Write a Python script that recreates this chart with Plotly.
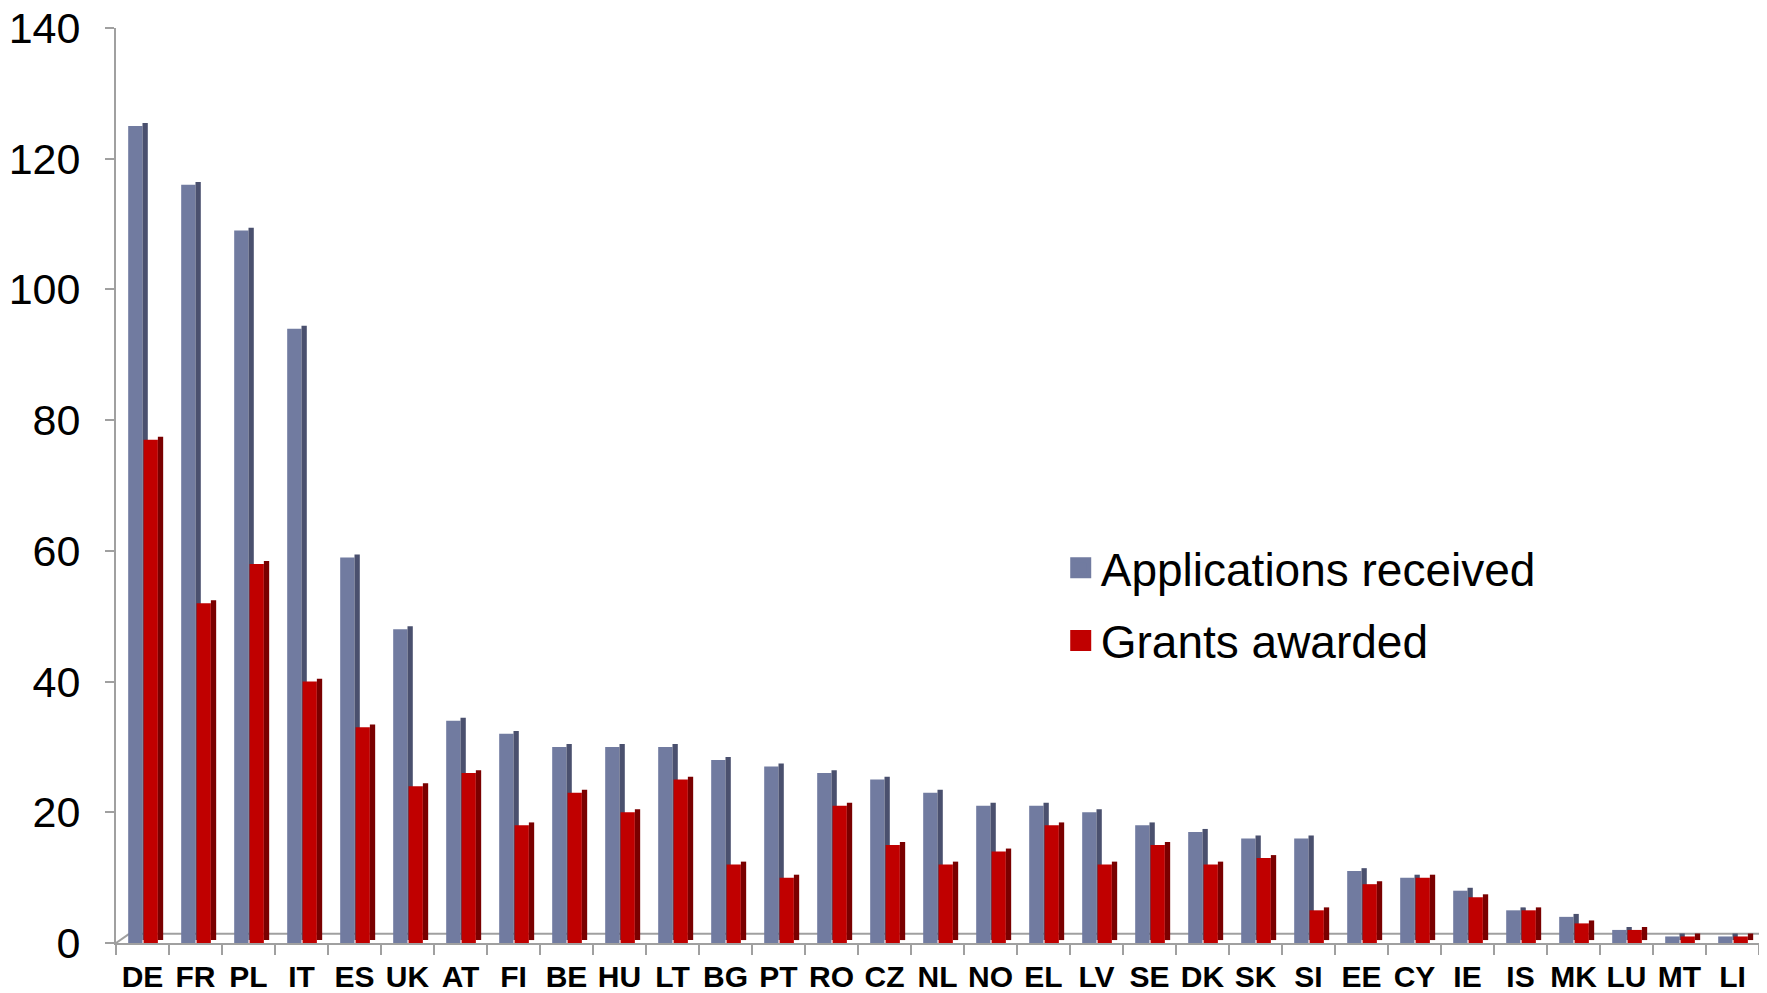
import plotly.graph_objects as go

countries = ['DE', 'FR', 'PL', 'IT', 'ES', 'UK', 'AT', 'FI', 'BE', 'HU', 'LT', 'BG', 'PT', 'RO', 'CZ', 'NL',
             'NO', 'EL', 'LV', 'SE', 'DK', 'SK', 'SI', 'EE', 'CY', 'IE', 'IS', 'MK', 'LU', 'MT', 'LI']
applications = [125, 116, 109, 94, 59, 48, 34, 32, 30, 30, 30, 28, 27, 26, 25, 23,
                21, 21, 20, 18, 17, 16, 16, 11, 10, 8, 5, 4, 2, 1, 1]
grants = [77, 52, 58, 40, 33, 24, 26, 18, 23, 20, 25, 12, 10, 21, 15, 12,
          14, 18, 12, 15, 12, 13, 5, 9, 10, 7, 5, 3, 2, 1, 1]

y_ticks = [0, 20, 40, 60, 80, 100, 120, 140]

# fake 3d look: dark side face a bit higher than the front face
depth = 0.45
front_w = 0.27
side_w = 0.1

blue, blue_side = '#717BA0', '#4A506E'
red, red_side = '#C00000', '#7A0000'

fig = go.Figure()
fig.add_trace(go.Bar(x=countries, y=applications, width=front_w, offset=-front_w,
                     marker=dict(color=blue, line_width=0), showlegend=False,
                     name='Applications received'))
fig.add_trace(go.Bar(x=countries, y=applications, base=depth, width=side_w, offset=0,
                     marker=dict(color=blue_side, line_width=0), showlegend=False, hoverinfo='skip'))
fig.add_trace(go.Bar(x=countries, y=grants, width=front_w, offset=0.02,
                     marker=dict(color=red, line_width=0), showlegend=False,
                     name='Grants awarded'))
fig.add_trace(go.Bar(x=countries, y=grants, base=depth, width=side_w, offset=0.02 + front_w,
                     marker=dict(color=red_side, line_width=0), showlegend=False, hoverinfo='skip'))

# legend entries (marker outline makes the square a bit bigger in the legend)
fig.add_trace(go.Scatter(x=[None], y=[None], mode='markers', name='Applications received',
                         marker=dict(symbol='square', size=24, color=blue, line=dict(color=blue, width=6)),
                         legendgroup='a'))
fig.add_trace(go.Scatter(x=[None], y=[None], mode='markers', name='Grants awarded',
                         marker=dict(symbol='square', size=24, color=red, line=dict(color=red, width=6)),
                         legendgroup='g'))

# floor of the 3d box
floor = dict(type='line', layer='below', line=dict(color='#A0A0A0', width=2))
fig.add_shape(floor, xref='paper', yref='y', x0=0.008, x1=1.0, y0=1.4, y1=1.4)
fig.add_shape(floor, xref='paper', yref='y', x0=0, x1=0.008, y0=0, y1=1.4)

# page body has an 8px margin, margins below take that into account
fig.update_layout(
    width=1767, height=993,
    margin=dict(l=108, r=16, t=20, b=58),
    plot_bgcolor='white', paper_bgcolor='white',
    barmode='overlay',
    font=dict(family='Liberation Sans, Arial', color='black'),
    legend=dict(x=0.575, y=0.45, xanchor='left', yanchor='top',
                font=dict(size=46), tracegroupgap=10, bgcolor='rgba(0,0,0,0)'),
)
fig.update_xaxes(type='category', range=[-0.5, len(countries) - 0.5], automargin=False,
                 showline=True, linecolor='#A0A0A0', linewidth=2,
                 ticks='outside', tickson='boundaries', ticklen=10, tickcolor='#A0A0A0', tickwidth=2,
                 tickangle=0, ticklabelstandoff=6,
                 tickfont=dict(size=30, family='Liberation Sans, Arial', weight='bold'),
                 showgrid=False)
fig.update_yaxes(range=[0, 140], tickvals=y_ticks, automargin=False,
                 showline=True, linecolor='#A0A0A0', linewidth=2,
                 ticks='outside', ticklen=9, tickcolor='#A0A0A0', tickwidth=2,
                 ticklabelstandoff=16, ticklabeloverflow='allow',
                 tickfont=dict(size=43), showgrid=False, zeroline=False)

fig.write_html("out.html")
